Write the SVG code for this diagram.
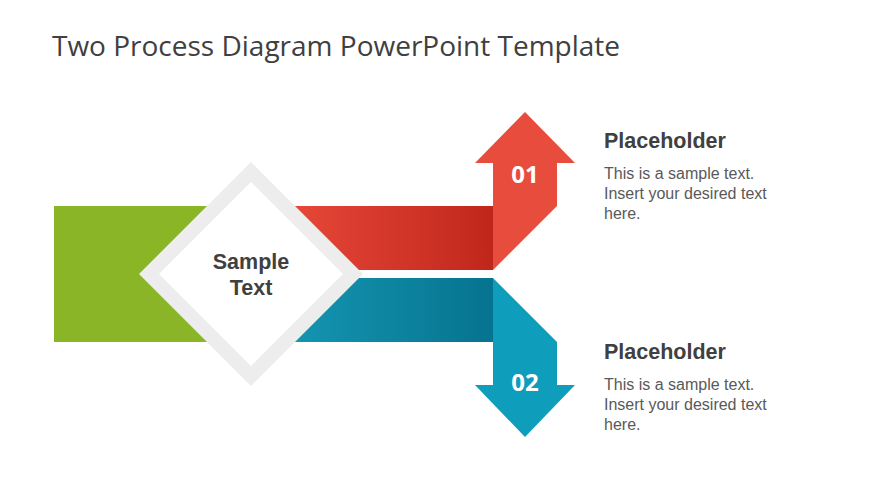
<svg xmlns="http://www.w3.org/2000/svg" width="870" height="489" viewBox="0 0 870 489">
<defs>
<linearGradient id="gRed" x1="0" y1="0" x2="1" y2="0">
<stop offset="0" stop-color="#E8493A"/>
<stop offset="1" stop-color="#C0271B"/>
</linearGradient>
<linearGradient id="gBlue" x1="0" y1="0" x2="1" y2="0">
<stop offset="0" stop-color="#1597B2"/>
<stop offset="1" stop-color="#067390"/>
</linearGradient>
<style>
.title{font-family:"Open Sans","Liberation Sans",sans-serif;font-size:28px;fill:#404040}
.center{font-family:"Liberation Sans",Arial,sans-serif;font-size:21.5px;font-weight:bold;fill:#404040;text-anchor:middle}
.num{font-family:"Open Sans","Liberation Sans",sans-serif;font-size:24px;font-weight:bold;fill:#ffffff;text-anchor:middle}
.head{font-family:"Liberation Sans",Arial,sans-serif;font-size:21.5px;font-weight:bold;fill:#404040}
.body{font-family:"Liberation Sans",Arial,sans-serif;font-size:16px;fill:#595959}
</style>
</defs>
<rect width="870" height="489" fill="#ffffff"/>
<text class="title" x="52" y="56">Two Process Diagram PowerPoint Template</text>

<g id="green-block">
<rect x="54" y="206" width="200" height="136" fill="#8AB527"/>
</g>

<g id="process-01">
<polygon points="280,206 493,206 493,270 344,270" fill="url(#gRed)"/>
<polygon points="493,163 557,163 557,206 493,270" fill="#E84C3D"/>
<polygon points="475,163 525,112 575,163" fill="#E84C3D"/>
<text class="num" x="525" y="183">01</text>
</g>

<g id="process-02">
<polygon points="344,278 493,278 493,342 280,342" fill="url(#gBlue)"/>
<polygon points="493,278 557,342 557,385 493,385" fill="#0E9DBA"/>
<polygon points="475,385 575,385 525,437" fill="#0E9DBA"/>
<text class="num" x="525" y="391">02</text>
</g>

<g id="center-diamond">
<polygon points="251,162 363,274 251,386 139,274" fill="#EDEDED"/>
<polygon points="251,182 343,274 251,366 159,274" fill="#ffffff"/>
<text class="center" x="251" y="269">Sample</text>
<text class="center" x="251" y="295">Text</text>
</g>

<g id="placeholder-01">
<text class="head" x="604" y="148">Placeholder</text>
<text class="body" x="604" y="179">This is a sample text.</text>
<text class="body" x="604" y="199">Insert your desired text</text>
<text class="body" x="604" y="219">here.</text>
</g>

<g id="placeholder-02">
<text class="head" x="604" y="359">Placeholder</text>
<text class="body" x="604" y="390">This is a sample text.</text>
<text class="body" x="604" y="410">Insert your desired text</text>
<text class="body" x="604" y="430">here.</text>
</g>
<g id="connectors"></g>
</svg>
